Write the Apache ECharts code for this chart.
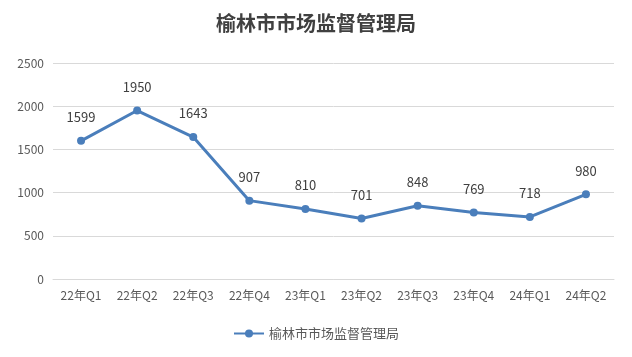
<!DOCTYPE html>
<html><head><meta charset="utf-8">
<script src="https://cdn.jsdelivr.net/npm/echarts@6/dist/echarts.min.js"></script>
<style>html,body{margin:0;padding:0;background:#fff}#c{width:632px;height:357px}</style>
</head><body><div id="c"></div>
<script>
var categories = ['22年Q1','22年Q2','22年Q3','22年Q4','23年Q1','23年Q2','23年Q3','23年Q4','24年Q1','24年Q2'];
var values = [1599,1950,1643,907,810,701,848,769,718,980];
var seriesName = '榆林市市场监督管理局';
var chart = echarts.init(document.getElementById('c'));
chart.setOption({
  animation:false,
  title:{text:'榆林市市场监督管理局',left:'center',top:8,
    textStyle:{fontFamily:'Noto Sans CJK SC',fontWeight:'bold',fontSize:20,color:'#404040'}},
  grid:{left:53,right:18,top:63,bottom:78},
  legend:{bottom:12,left:'center',itemWidth:30,itemHeight:10,
    textStyle:{fontFamily:'Noto Sans CJK SC',fontSize:13,color:'#595959'},data:[seriesName]},
  xAxis:{type:'category',data:categories,
    axisLine:{show:true,lineStyle:{color:'#d9d9d9'}},axisTick:{show:false},
    axisLabel:{fontFamily:'Noto Sans CJK SC',fontSize:12,color:'#595959',margin:10,interval:0}},
  yAxis:{type:'value',min:0,max:2500,interval:500,
    axisLine:{show:false},axisTick:{show:false},
    splitLine:{lineStyle:{color:'#d9d9d9'}},
    axisLabel:{fontFamily:'Noto Sans CJK SC',fontSize:12,color:'#595959',margin:9,
      formatter:function(v){return String(v);}}},
  series:[{name:seriesName,type:'line',data:values,
    symbol:'circle',symbolSize:8,
    lineStyle:{color:'#4a7ebb',width:3},
    itemStyle:{color:'#4a7ebb'},
    label:{show:true,position:'top',distance:13,fontFamily:'Noto Sans CJK SC',fontSize:13,color:'#404040'}}]
});
</script></body></html>
